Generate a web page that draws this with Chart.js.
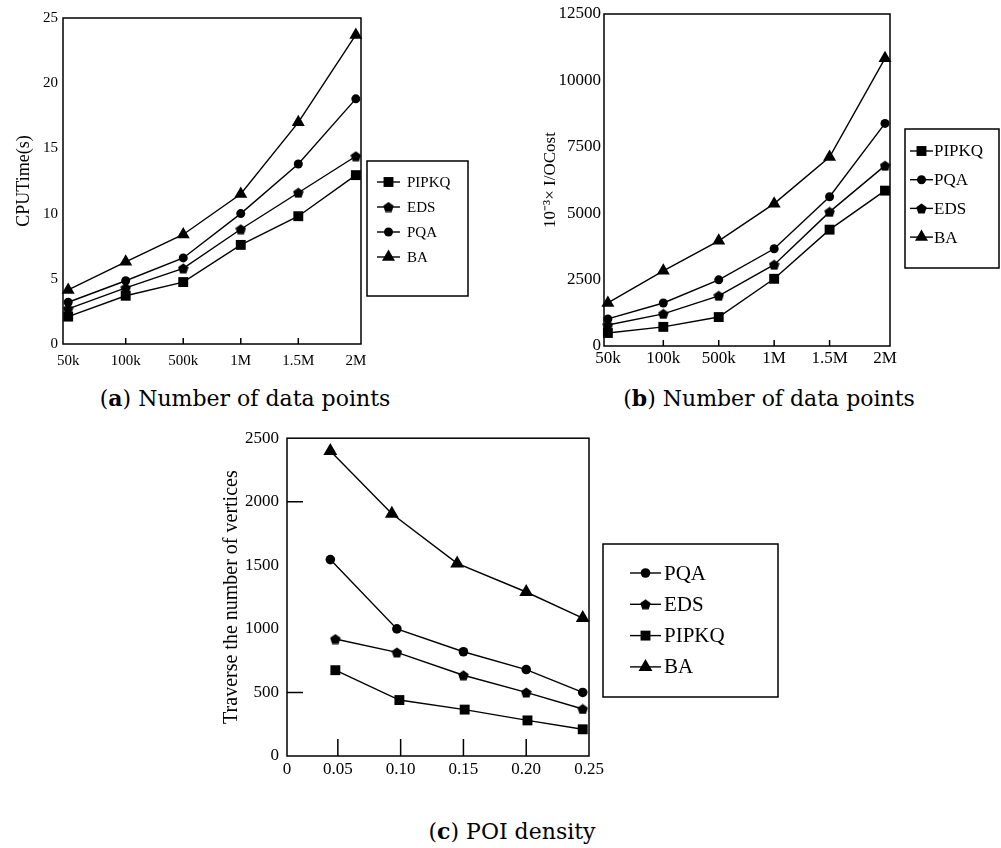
<!DOCTYPE html>
<html>
<head>
<meta charset="utf-8">
<title>Query performance comparison</title>
<script src="https://cdn.jsdelivr.net/npm/chart.js@4.4.1/dist/chart.umd.min.js"></script>
<style>
    body { margin: 0; background: #fff; width: 1001px; height: 848px; position: relative; overflow: hidden; }
    canvas { position: absolute; }
    .cap { position: absolute; font-family: "DejaVu Serif", serif; font-size: 22px; line-height: 26px; color: #000; white-space: nowrap; transform: translateX(-50%); }
</style>
</head>
<body>
<canvas id="chartA" width="480" height="375" style="left:0;top:0"></canvas>
<canvas id="chartB" width="471" height="375" style="left:530px;top:0"></canvas>
<canvas id="chartC" width="580" height="375" style="left:200px;top:420px"></canvas>
<div class="cap" style="left:245px;top:385px">(<b>a</b>) Number of data points</div>
<div class="cap" style="left:769px;top:385px">(<b>b</b>) Number of data points</div>
<div class="cap" style="left:512px;top:818px">(<b>c</b>) POI density</div>

<script>
// (a) CPU time against number of data points
const sizeLabels = ['50k', '100k', '500k', '1M', '1.5M', '2M'];
const cpuPIPKQ = [2.1, 3.7, 4.75, 7.6, 9.8, 12.95];
const cpuEDS = [2.7, 4.3, 5.8, 8.8, 11.6, 14.4];
const cpuPQA = [3.2, 4.85, 6.6, 10.0, 13.8, 18.8];
const cpuBA = [4.15, 6.3, 8.4, 11.5, 17.0, 23.7];

// (b) I/O cost against number of data points
const ioPIPKQ = [490, 720, 1090, 2530, 4380, 5850];
const ioPQA = [1020, 1620, 2490, 3660, 5620, 8380];
const ioEDS = [790, 1210, 1890, 3060, 5050, 6790];
const ioBA = [1620, 2830, 3960, 5360, 7115, 10830];

// (c) traversed vertices against POI density (x read per series)
const densTicks = [0.05, 0.10, 0.15, 0.20, 0.25];
const densPQA = [0.044, 0.097, 0.150, 0.200, 0.245];
const vertsPQA = [1545, 1000, 820, 680, 500];
const densEDS = [0.048, 0.097, 0.150, 0.200, 0.245];
const vertsEDS = [920, 815, 635, 500, 370];
const densPIPKQ = [0.048, 0.099, 0.151, 0.201, 0.245];
const vertsPIPKQ = [675, 440, 365, 280, 210];
const densBA = [0.044, 0.093, 0.145, 0.200, 0.245];
const vertsBA = [2400, 1905, 1515, 1290, 1085];

const serif = "'Liberation Serif', 'Times New Roman', serif";

// pentagon marker for EDS (Chart.js has no pentagon point style)
function makePentagon(size) {
    const c = document.createElement('canvas');
    c.width = size; c.height = size;
    const ctx = c.getContext('2d');
    const r = size / 2;
    ctx.fillStyle = '#000';
    ctx.beginPath();
    for (let i = 0; i < 5; i++) {
        const a = -Math.PI / 2 + i * 2 * Math.PI / 5;
        const px = r + r * Math.cos(a);
        const py = r * 1.1 + r * Math.sin(a);
        if (i === 0) ctx.moveTo(px, py); else ctx.lineTo(px, py);
    }
    ctx.closePath();
    ctx.fill();
    return c;
}
const pentagon = makePentagon(11);

function series(label, values, style, radius, xs) {
    return {
        label: label,
        data: values.map((v, i) => ({ x: xs ? xs[i] : i, y: v })),
        borderColor: '#000',
        backgroundColor: '#000',
        borderWidth: 1.4,
        pointStyle: style,
        pointRadius: radius,
        pointHoverRadius: radius,
        pointBorderWidth: 0,
        tension: 0,
        clip: false
    };
}

// draw one marker (used by the boxed legend)
function drawMarker(ctx, style, r, x, y) {
    ctx.fillStyle = '#000';
    if (style instanceof HTMLCanvasElement) {
        ctx.drawImage(style, x - style.width / 2, y - style.height / 2);
        return;
    }
    ctx.beginPath();
    if (style === 'rect') {
        const s = r * Math.SQRT1_2;
        ctx.rect(x - s, y - s, 2 * s, 2 * s);
    } else if (style === 'triangle') {
        ctx.moveTo(x, y - r);
        ctx.lineTo(x + r * Math.sin(2 * Math.PI / 3), y + r / 2);
        ctx.lineTo(x - r * Math.sin(2 * Math.PI / 3), y + r / 2);
        ctx.closePath();
    } else {
        ctx.arc(x, y, r, 0, Math.PI * 2);
    }
    ctx.fill();
}

// box around the plot area
const framePlugin = {
    id: 'frame',
    afterDraw(chart) {
        const a = chart.chartArea, ctx = chart.ctx;
        ctx.save();
        ctx.strokeStyle = '#000';
        ctx.lineWidth = 1.5;
        ctx.strokeRect(a.left, a.top, a.right - a.left, a.bottom - a.top);
        ctx.restore();
    }
};

// short tick marks pointing into the plot
const innerTicksPlugin = {
    id: 'innerTicks',
    beforeDatasetsDraw(chart, args, opts) {
        const ctx = chart.ctx, a = chart.chartArea;
        ctx.save();
        ctx.strokeStyle = '#000';
        ctx.lineWidth = 1.5;
        ctx.beginPath();
        (opts.x || []).forEach(v => {
            const px = chart.scales.x.getPixelForValue(v);
            ctx.moveTo(px, a.bottom);
            ctx.lineTo(px, a.bottom - opts.xLen);
        });
        (opts.y || []).forEach(v => {
            const py = chart.scales.y.getPixelForValue(v);
            ctx.moveTo(a.left, py);
            ctx.lineTo(a.left + opts.yLen, py);
        });
        ctx.stroke();
        ctx.restore();
    }
};

// legend in a bordered box with line + marker samples
const boxLegendPlugin = {
    id: 'boxLegend',
    afterDraw(chart, args, o) {
        const ctx = chart.ctx;
        ctx.save();
        ctx.strokeStyle = '#000';
        ctx.lineWidth = 1.5;
        ctx.strokeRect(o.left, o.top, o.width, o.height);
        ctx.font = o.fontSize + 'px ' + serif;
        ctx.textBaseline = 'middle';
        ctx.textAlign = 'left';
        chart.data.datasets.forEach((ds, i) => {
            const y = o.firstY + i * o.gap;
            ctx.lineWidth = 1.4;
            ctx.beginPath();
            ctx.moveTo(o.lineFrom, y);
            ctx.lineTo(o.lineTo, y);
            ctx.stroke();
            drawMarker(ctx, ds.pointStyle, ds.pointRadius, (o.lineFrom + o.lineTo) / 2, y);
            ctx.fillStyle = '#000';
            ctx.fillText(ds.label, o.textX, y + 1);
        });
        ctx.restore();
    }
};

function createChart(id, datasets, cfg) {
    const ctx = document.getElementById(id).getContext('2d');
    return new Chart(ctx, {
        type: 'line',
        data: { datasets: datasets },
        plugins: [framePlugin, innerTicksPlugin, boxLegendPlugin],
        options: {
            responsive: false,
            animation: false,
            events: [],
            layout: { padding: { top: cfg.padTop, right: cfg.padRight, left: 0, bottom: 0 } },
            plugins: {
                legend: { display: false },
                tooltip: { enabled: false },
                innerTicks: cfg.innerTicks,
                boxLegend: cfg.legend
            },
            scales: {
                x: {
                    type: 'linear',
                    min: cfg.xMin,
                    max: cfg.xMax,
                    afterBuildTicks: s => { s.ticks = cfg.xTicks.map(v => ({ value: v })); },
                    afterFit: s => { s.height = cfg.xHeight; },
                    grid: { display: false, drawTicks: false },
                    border: { display: false },
                    ticks: {
                        color: '#000',
                        font: { family: serif, size: cfg.tickSize },
                        padding: cfg.xPad,
                        maxRotation: 0,
                        autoSkip: false,
                        callback: cfg.xLabel
                    }
                },
                y: {
                    min: 0,
                    max: cfg.yMax,
                    afterFit: s => { s.width = cfg.yWidth; },
                    grid: { display: false, drawTicks: false },
                    border: { display: false },
                    ticks: {
                        color: '#000',
                        stepSize: cfg.yStep,
                        font: { family: serif, size: cfg.tickSize },
                        padding: cfg.yPad,
                        callback: v => String(v)
                    },
                    title: {
                        display: true,
                        text: cfg.yTitle,
                        color: '#000',
                        font: { family: serif, size: cfg.titleSize },
                        padding: { top: cfg.titlePad, bottom: 0 }
                    }
                }
            }
        }
    });
}

const sizeIdx = sizeLabels.map((s, i) => i);

createChart('chartA', [
    series('PIPKQ', cpuPIPKQ, 'rect', 7),
    series('EDS', cpuEDS, pentagon, 5),
    series('PQA', cpuPQA, 'circle', 4.5),
    series('BA', cpuBA, 'triangle', 7.5)
], {
    padTop: 18, padRight: 119, xHeight: 31, yWidth: 63,
    xMin: -0.09, xMax: 5.09, xTicks: sizeIdx, xLabel: v => sizeLabels[v],
    xPad: 8, yPad: 5, yMax: 25, yStep: 5, tickSize: 15,
    yTitle: 'CPUTime(s)', titleSize: 18, titlePad: 13,
    innerTicks: { x: [1, 2, 3, 4], xLen: 6 },
    legend: { left: 367, top: 161, width: 101, height: 135, firstY: 182, gap: 25,
              lineFrom: 377, lineTo: 400, textX: 407, fontSize: 15 }
});

createChart('chartB', [
    series('PIPKQ', ioPIPKQ, 'rect', 7),
    series('PQA', ioPQA, 'circle', 4.5),
    series('EDS', ioEDS, pentagon, 5),
    series('BA', ioBA, 'triangle', 7.5)
], {
    padTop: 14, padRight: 111, xHeight: 29, yWidth: 74,
    xMin: -0.07, xMax: 5.09, xTicks: sizeIdx, xLabel: v => sizeLabels[v],
    xPad: 2, yPad: 3, yMax: 12500, yStep: 2500, tickSize: 17,
    yTitle: '10\u207B\u00B3\u00D7 I/OCost', titleSize: 17, titlePad: 10,
    innerTicks: { x: [1, 2, 3, 4], xLen: 6 },
    legend: { left: 375, top: 129, width: 94, height: 139, firstY: 151, gap: 28.7,
              lineFrom: 380, lineTo: 403, textX: 404, fontSize: 17 }
});

createChart('chartC', [
    series('PQA', vertsPQA, 'circle', 4.8, densPQA),
    series('EDS', vertsEDS, pentagon, 5, densEDS),
    series('PIPKQ', vertsPIPKQ, 'rect', 7, densPIPKQ),
    series('BA', vertsBA, 'triangle', 8, densBA)
], {
    padTop: 16, padRight: 191, xHeight: 39, yWidth: 87,
    xMin: 0.0095, xMax: 0.25, xTicks: [0.0095].concat(densTicks),
    xLabel: v => (v < 0.01 ? '0' : v.toFixed(2)),
    xPad: 3, yPad: 8, yMax: 2500, yStep: 500, tickSize: 17,
    yTitle: 'Traverse the number of vertices', titleSize: 20, titlePad: 20,
    innerTicks: { x: [0.05, 0.10, 0.15, 0.20], xLen: 17, y: [500, 2000], yLen: 16 },
    legend: { left: 403, top: 124, width: 175, height: 153, firstY: 153, gap: 31.3,
              lineFrom: 430, lineTo: 461, textX: 464, fontSize: 21 }
});
</script>
</body>
</html>
